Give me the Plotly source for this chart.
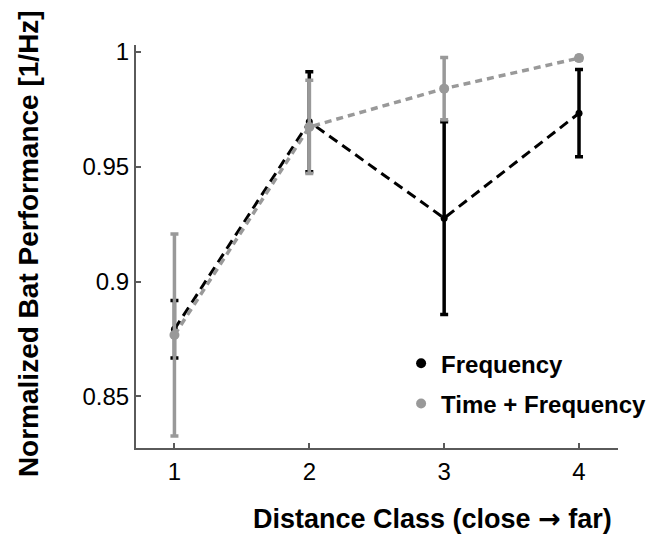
import plotly.graph_objects as go

# distance classes and mean performance (+/- error) per feature set
distance_class = [1, 2, 3, 4]

freq_mean = [0.8792, 0.9696, 0.9276, 0.9733]
freq_err = [0.0125, 0.0218, 0.0420, 0.0190]

tf_mean = [0.8767, 0.9673, 0.9840, 0.9973]
tf_err = [0.0440, 0.0203, 0.0136, 0.0008]

x_ticks = [1, 2, 3, 4]
y_ticks = [0.85, 0.9, 0.95, 1.0]
y_tick_text = ["0.85", "0.9", "0.95", "1"]

black = "#000000"
grey = "#999999"
axis_col = "#5a5a5a"

fig = go.Figure()

# Frequency (black, long dashes)
fig.add_trace(go.Scatter(
    x=distance_class, y=freq_mean, mode="lines+markers",
    line=dict(color=black, width=3, dash="10px,6px"),
    marker=dict(color=black, size=7),
    error_y=dict(type="data", array=freq_err, color=black, thickness=3.5, width=4),
    showlegend=False,
))

# Time + Frequency (grey, short dashes) drawn on top
fig.add_trace(go.Scatter(
    x=distance_class, y=tf_mean, mode="lines+markers",
    line=dict(color=grey, width=3.5, dash="7px,5px"),
    marker=dict(color=grey, size=10),
    error_y=dict(type="data", array=tf_err, color=grey, thickness=3.5, width=4),
    showlegend=False,
))

# legend entries show only a dot
fig.add_trace(go.Scatter(x=[None], y=[None], mode="markers", name="Frequency",
                         marker=dict(color=black, size=10), legendgroup="a"))
fig.add_trace(go.Scatter(x=[None], y=[None], mode="markers", name="Time + Frequency",
                         marker=dict(color=grey, size=10), legendgroup="b"))

# page body has an 8px margin, so the figure is 8px smaller than the window
fig.update_layout(
    width=655, height=529,
    margin=dict(l=128, r=16, t=37, b=89),
    plot_bgcolor="white", paper_bgcolor="white",
    font=dict(family="Liberation Sans, Arial, sans-serif", color="black"),
    legend=dict(x=0.55, y=0.265, xanchor="left", yanchor="top",
                bgcolor="rgba(0,0,0,0)", tracegroupgap=6, itemwidth=30,
                font=dict(size=24, family="Liberation Sans, Arial, sans-serif", weight="bold")),
    annotations=[
        dict(text="Distance Class (close <span style='font-family:DejaVu Sans'>\u2192</span> far)",
             xref="paper", yref="paper",
             x=0.6155, y=-0.176, xanchor="center", yanchor="middle", showarrow=False,
             font=dict(size=27, weight="bold")),
        dict(text="Normalized Bat Performance [1/Hz]", xref="paper", yref="paper",
             x=-0.224, y=0.506, xanchor="center", yanchor="middle", showarrow=False,
             textangle=-90, font=dict(size=28, weight="bold")),
    ],
)

fig.update_xaxes(
    range=[0.715, 4.289], tickvals=x_ticks, ticks="inside", ticklen=5,
    tickcolor=axis_col, tickwidth=1.5, showline=True, linecolor=axis_col, linewidth=2,
    showgrid=False, zeroline=False, tickfont=dict(size=24), ticklabelstandoff=1,
)
fig.update_yaxes(
    range=[0.8275, 1.003], tickvals=y_ticks, ticktext=y_tick_text, ticks="inside",
    ticklen=5, tickcolor=axis_col, tickwidth=1.5, showline=True, linecolor=axis_col,
    linewidth=2, showgrid=False, zeroline=False, tickfont=dict(size=24),
    ticklabelstandoff=0,
)

fig.write_html("out.html")
